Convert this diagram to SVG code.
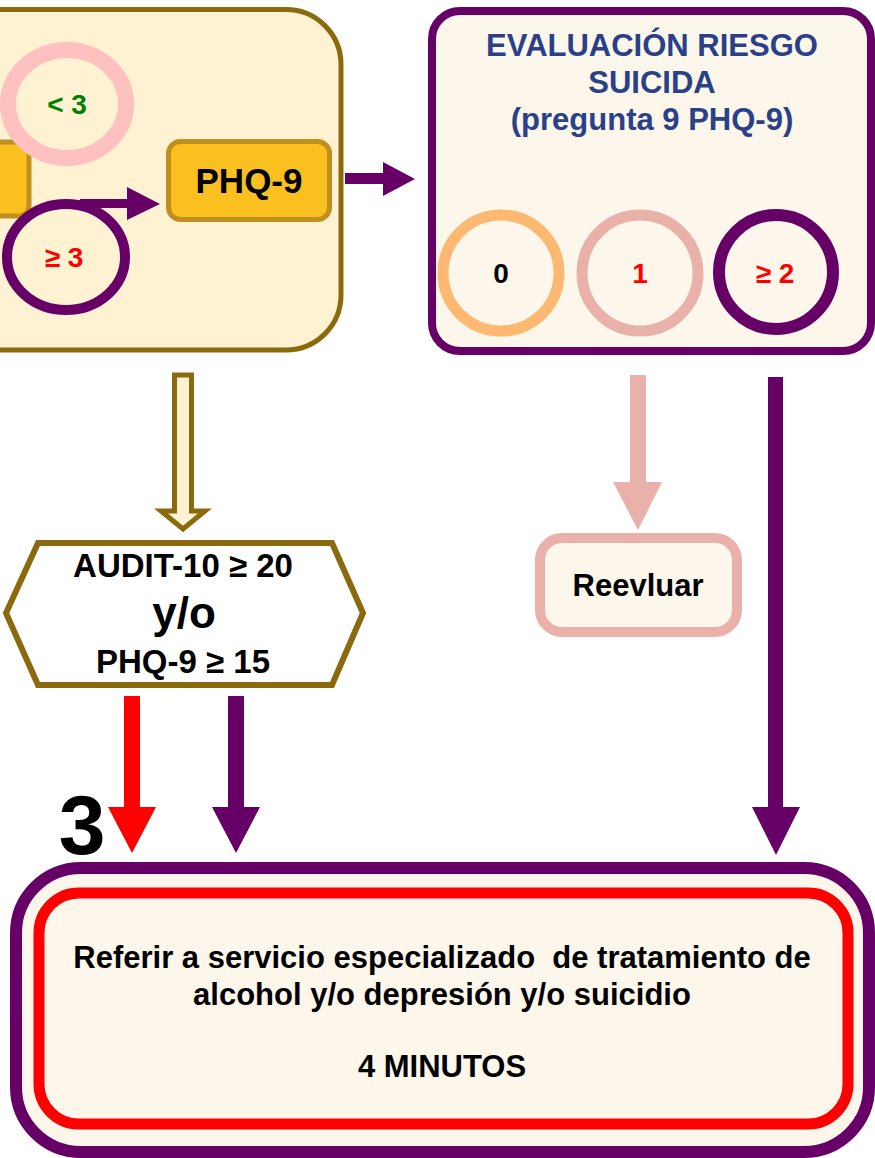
<svg xmlns="http://www.w3.org/2000/svg" width="875" height="1158" viewBox="0 0 875 1158">
<style>
text{font-family:"Liberation Sans",Arial,sans-serif;font-weight:bold;text-anchor:middle}
</style>
<rect width="875" height="1158" fill="#ffffff"/>
<g id="screen-box">
<rect x="-60" y="9.5" width="401" height="340.5" rx="55" fill="#FFF2D2" stroke="#8B6A0E" stroke-width="5"/>
<rect x="-40" y="142" width="69" height="74" rx="10" fill="#F9C020" stroke="#BF9020" stroke-width="5"/>
<ellipse cx="67" cy="104" rx="59" ry="54" fill="none" stroke="#FFC0C0" stroke-width="16"/>
<text x="67" y="114" font-size="28" fill="#008000">&lt; 3</text>
<ellipse cx="66" cy="257" rx="59" ry="53" fill="none" stroke="#660066" stroke-width="10"/>
<text x="64" y="267" font-size="28" fill="#FF0000">≥ 3</text>
</g>
<g id="phq9">
<rect x="168.5" y="141.5" width="161" height="78" rx="12" fill="#F9C020" stroke="#BF9020" stroke-width="5"/>
<text x="249" y="193" font-size="35" fill="#000">PHQ-9</text>
</g>
<g id="riesgo">
<rect x="432" y="11" width="439" height="340" rx="28" fill="#FCF7EA" stroke="#660066" stroke-width="8"/>
<text x="652" y="56" font-size="31" fill="#2A4088">EVALUACIÓN RIESGO</text>
<text x="652" y="93" font-size="31" fill="#2A4088">SUICIDA</text>
<text x="652" y="130" font-size="31" fill="#2A4088">(pregunta 9 PHQ-9)</text>
<circle cx="501" cy="273" r="58" fill="none" stroke="#FDB871" stroke-width="11"/>
<text x="501" y="283" font-size="28" fill="#000">0</text>
<circle cx="640" cy="273" r="58" fill="none" stroke="#E9B1AA" stroke-width="11"/>
<text x="640" y="283" font-size="28" fill="#FF0000">1</text>
<circle cx="776" cy="272" r="57" fill="none" stroke="#660066" stroke-width="12"/>
<text x="775" y="283" font-size="28" fill="#FF0000">≥ 2</text>
</g>
<g id="criterio">
<polygon points="38,543 332,543 363,613 332,685 38,685 6,613" fill="#ffffff" stroke="#8B6A0E" stroke-width="6"/>
<text x="183" y="577" font-size="33" fill="#000">AUDIT-10 ≥ 20</text>
<text x="184" y="628" font-size="44" fill="#000">y/o</text>
<text x="183" y="673" font-size="33" fill="#000">PHQ-9 ≥ 15</text>
</g>
<g id="reevaluar">
<rect x="540" y="538" width="197" height="94" rx="22" fill="#FCF7EA" stroke="#EAB0AA" stroke-width="10"/>
<text x="638" y="596" font-size="31" fill="#000">Reevluar</text>
</g>
<g id="referir">
<rect x="16" y="868" width="853" height="284" rx="65" fill="#FCF7EA" stroke="#660066" stroke-width="12"/>
<rect x="39" y="893" width="809" height="231" rx="40" fill="none" stroke="#FF0000" stroke-width="11"/>
<text x="442" y="968" font-size="31" fill="#000" xml:space="preserve">Referir a servicio especializado  de tratamiento de</text>
<text x="442" y="1005" font-size="31" fill="#000">alcohol y/o depresión y/o suicidio</text>
<text x="442" y="1077" font-size="31" fill="#000">4 MINUTOS</text>
</g>
<g id="step-label">
<text x="82" y="854" font-size="84" fill="#000">3</text>
</g>
<g id="connectors">
<polygon points="80,199 127,199 127,187 160,204 127,220 127,208 80,208" fill="#660066"/>
<polygon points="345,173 383,173 383,162 415,179 383,196 383,184 345,184" fill="#660066"/>
<polygon points="174.5,375 191.5,375 191.5,511 205,511 183,529 161,511 174.5,511" fill="#FFF2D2" stroke="#8B6A0E" stroke-width="5"/>
<polygon points="630,375 646,375 646,482 662,482 638,530 613,482 630,482" fill="#EAB0AA"/>
<polygon points="768,377 783,377 783,807 800,807 776,855 752,807 768,807" fill="#660066"/>
<polygon points="124,696 140,696 140,807 156,807 132,853 108,807 124,807" fill="#FF0000"/>
<polygon points="228,696 244,696 244,807 260,807 236,853 212,807 228,807" fill="#660066"/>
</g>
</svg>
